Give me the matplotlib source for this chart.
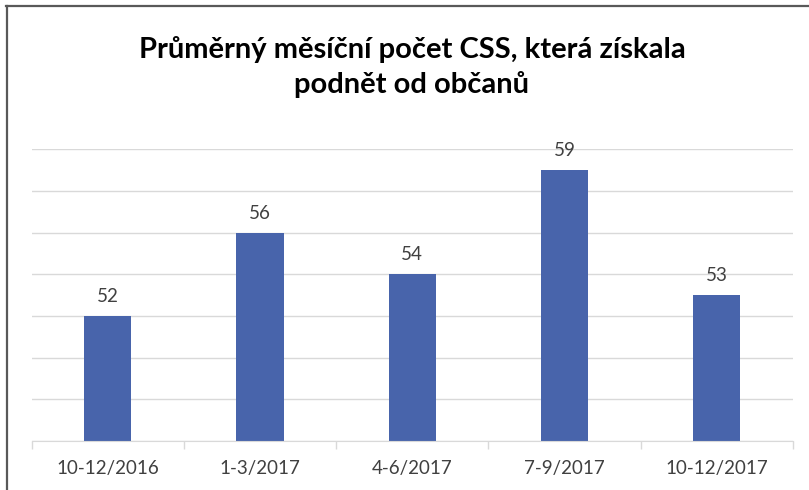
import matplotlib
matplotlib.use("Agg")
import matplotlib.pyplot as plt
from matplotlib.lines import Line2D
import numpy as np

categories = ["10-12/2016", "1-3/2017", "4-6/2017", "7-9/2017", "10-12/2017"]
values = [52, 56, 54, 59, 53]
title = "Průměrný měsíční počet CSS, která získala\npodnět od občanů"

plt.rcParams['font.family'] = ['Lato', 'DejaVu Sans']

fig = plt.figure(figsize=(8.09, 4.90), dpi=100)
fig.patch.set_facecolor("white")
ax = fig.add_axes([31.5/809, 1-441/490, (793-31.5)/809, (441-149.3)/490])

x = np.arange(len(categories))
ax.bar(x, values, width=0.31, color="#4864ab", zorder=3)
ax.set_xlim(-0.5, len(categories)-0.5)
ax.set_ylim(46, 60)
ax.set_yticks(np.arange(46, 61, 2))
ax.yaxis.grid(True, color="#d9d9d9", linewidth=1.0, zorder=0)
ax.tick_params(axis='y', left=False, labelleft=False)

ax.set_xticks(x)
ax.set_xticklabels(categories, fontsize=13.5, color="#404040")
ax.tick_params(axis='x', which='major', length=0, pad=14)
ax.set_xticks(np.arange(-0.5, len(categories), 1), minor=True)
ax.tick_params(axis='x', which='minor', length=6, color="#d9d9d9", width=1)

for s in ["top", "right", "left"]:
    ax.spines[s].set_visible(False)
ax.spines["bottom"].set_color("#d9d9d9")
ax.spines["bottom"].set_zorder(4)

for xi, v in zip(x, values):
    ax.annotate(str(v), (xi, v), xytext=(0, 8), textcoords="offset points",
                ha="center", va="bottom", fontsize=13.5, color="#404040")

fig.text(412/809, 1-67/490, title, ha="center", va="center", fontsize=21,
         fontweight="bold", color="black", linespacing=1.4)

# outer frame (top and left edges)
fig.add_artist(Line2D([6/809, 1], [1-6/490, 1-6/490], color="#595959", linewidth=1.6,
                      transform=fig.transFigure))
fig.add_artist(Line2D([7/809, 7/809], [0, 1-6/490], color="#595959", linewidth=1.6,
                      transform=fig.transFigure))

fig.savefig("out.png", dpi=100, facecolor="white")
